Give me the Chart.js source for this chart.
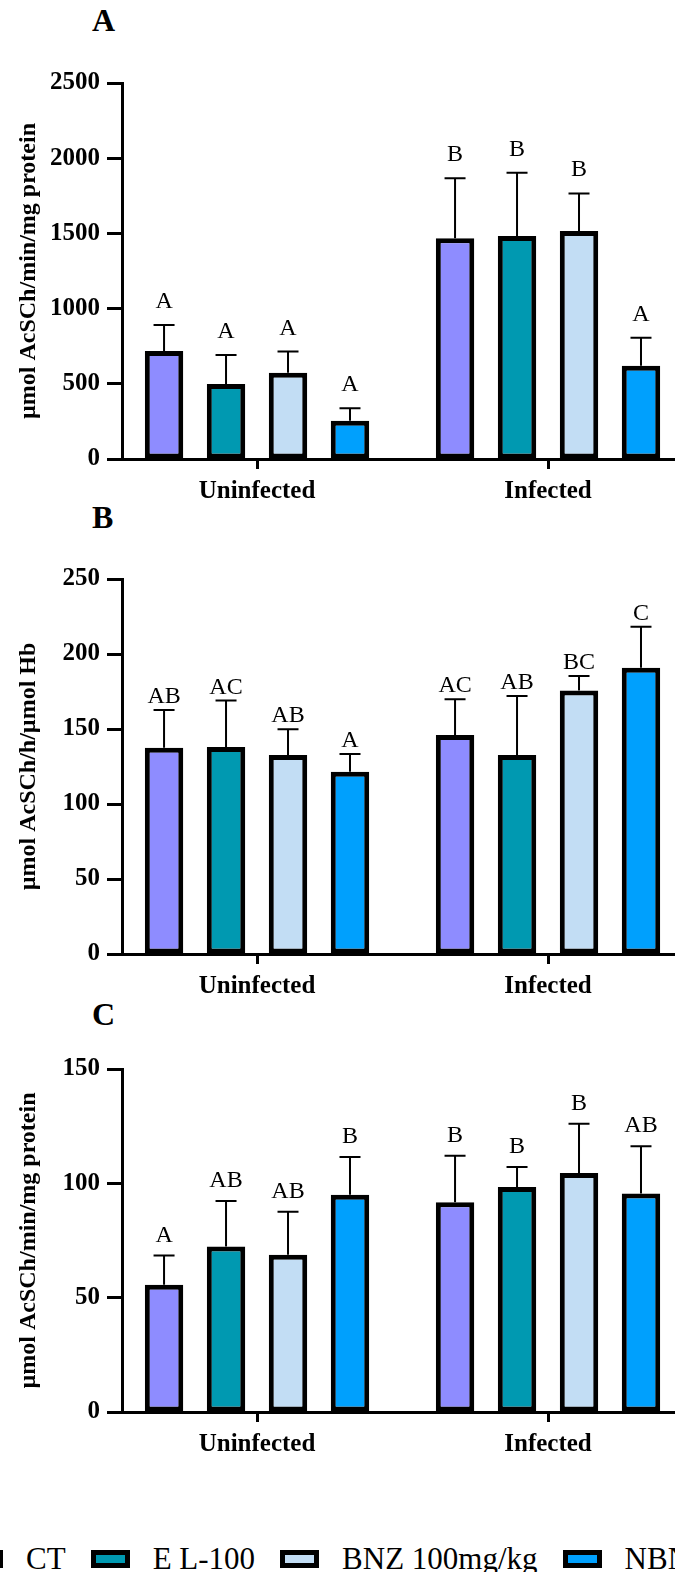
<!DOCTYPE html>
<html>
<head>
<meta charset="utf-8">
<script src="https://cdn.jsdelivr.net/npm/chart.js@4.4.1/dist/chart.umd.min.js"></script>
<style>
  html, body { margin: 0; padding: 0; background: #fff; }
  #page { position: relative; width: 675px; height: 1572px; overflow: hidden; font-family: "Liberation Serif", "Times New Roman", serif; }
  canvas { position: absolute; left: 0; }
  .panel { position: absolute; left: 92px; font-weight: bold; font-size: 32px; line-height: 32px; }
  #legend { position: absolute; left: -36px; top: 1541px; display: flex; align-items: center; white-space: nowrap; font-size: 31px; line-height: 36px; }
  .item { display: flex; align-items: center; margin-right: 25px; }
  .box { width: 29px; height: 8px; border: 5px solid #000; margin-right: 23px; }
</style>
</head>
<body>
<div id="page">
  <div class="panel" style="top:4px">A</div>
  <div class="panel" style="top:501px">B</div>
  <div class="panel" style="top:998px">C</div>
  <canvas id="chartA" width="720" height="504" style="top:0px"></canvas>
  <canvas id="chartB" width="720" height="499" style="top:500px"></canvas>
  <canvas id="chartC" width="720" height="457" style="top:1000px"></canvas>
  <div id="legend"></div>
</div>
<script>
// groups and treatments
const categories = ['Uninfected', 'Infected'];
const treatments = ['CT', 'E L-100', 'BNZ 100mg/kg', 'NBN'];
const colors = ['#8e8cff', '#0099b1', '#c2ddf4', '#00a0fd'];

// A - umol AcSCh/min/mg protein, one row per treatment [Uninfected, Infected]
const meansA = [[718, 1467], [499, 1483], [574, 1516], [255, 620]];
const sdA = [[173, 399], [192, 421], [140, 250], [82, 187]];
const lettersA = [['A', 'B'], ['A', 'B'], ['A', 'B'], ['A', 'A']];

// B - umol AcSCh/h/umol Hb
const meansB = [[137.5, 146], [138, 132.7], [132.7, 175.6], [121.5, 190.9]];
const sdB = [[25.2, 23.8], [31, 39.3], [17.1, 9.7], [11.8, 27.3]];
const lettersB = [['AB', 'AC'], ['AC', 'AB'], ['AB', 'BC'], ['A', 'C']];

// C - umol AcSCh/min/mg protein
const meansC = [[55.7, 91.7], [72.4, 98.4], [68.8, 104.5], [95.0, 95.5]];
const sdC = [[12.7, 20.4], [19.9, 8.7], [18.8, 21.6], [16.5, 20.7]];
const lettersC = [['A', 'B'], ['AB', 'B'], ['AB', 'B'], ['B', 'AB']];

const FONT = '"Liberation Serif", "Times New Roman", serif';

// error bars (upper only) + significance letters
const errorBars = {
  id: 'errorBars',
  afterDatasetsDraw(chart, args, opts) {
    const ctx = chart.ctx;
    const yScale = chart.scales.y;
    ctx.save();
    chart.data.datasets.forEach((ds, d) => {
      chart.getDatasetMeta(d).data.forEach((bar, i) => {
        const v = ds.data[i].y;
        const top = yScale.getPixelForValue(v);
        const err = yScale.getPixelForValue(v + opts.sd[d][i]);
        ctx.strokeStyle = '#000';
        ctx.lineWidth = 2;
        ctx.beginPath();
        ctx.moveTo(bar.x, top);
        ctx.lineTo(bar.x, err);
        ctx.moveTo(bar.x - 10.5, err);
        ctx.lineTo(bar.x + 10.5, err);
        ctx.stroke();
        ctx.fillStyle = '#000';
        ctx.font = '24px ' + FONT;
        ctx.textAlign = 'center';
        ctx.textBaseline = 'alphabetic';
        ctx.fillText(opts.letters[d][i], bar.x, err - opts.gap);
      });
    });
    ctx.restore();
  }
};

function makeChart(id, means, sd, letters, yMax, yStep, yTitle, topPad, gap) {
  return new Chart(id, {
    type: 'bar',
    data: {
      datasets: treatments.map((t, d) => ({
        label: t,
        data: means[d].map((v, i) => ({x: i, y: v})),
        backgroundColor: colors[d],
        borderColor: '#000',
        borderWidth: 5,
        borderSkipped: false,
        barPercentage: 0.62,
        categoryPercentage: 0.852
      }))
    },
    options: {
      responsive: false,
      animation: false,
      layout: {padding: {top: topPad, left: 0, right: 0, bottom: 0}},
      plugins: {
        legend: {display: false},
        tooltip: {enabled: false},
        errorBars: {sd: sd, letters: letters, gap: gap}
      },
      scales: {
        x: {
          type: 'linear',
          offset: false,
          min: -0.464,
          max: 1.591,
          bounds: 'data',
          afterBuildTicks: s => { s.ticks = categories.map((c, i) => ({value: i})); },
          afterFit: s => { s.height = 45; },
          ticks: {
            callback: v => categories[v],
            color: '#000',
            padding: 8,
            font: {family: FONT, size: 25, weight: 'bold'}
          },
          grid: {offset: false, drawOnChartArea: false, drawTicks: true, tickLength: 10, tickWidth: 3, tickColor: '#000'},
          border: {display: true, color: '#000', width: 3}
        },
        y: {
          min: 0,
          max: yMax,
          afterFit: s => { s.width = 122; },
          ticks: {
            stepSize: yStep,
            format: {useGrouping: false},
            color: '#000',
            padding: 7,
            font: {family: FONT, size: 25, weight: 'bold'}
          },
          grid: {drawOnChartArea: false, drawTicks: true, tickLength: 15, tickWidth: 3, tickColor: '#000'},
          border: {display: true, color: '#000', width: 3},
          title: {
            display: true,
            text: yTitle,
            color: '#000',
            padding: {top: 14, bottom: 0},
            font: {family: FONT, size: 24, weight: 'bold'}
          }
        }
      }
    },
    plugins: [errorBars]
  });
}

makeChart('chartA', meansA, sdA, lettersA, 2500, 500, 'µmol AcSCh/min/mg protein', 83, 17);
makeChart('chartB', meansB, sdB, lettersB, 250, 50, 'µmol AcSCh/h/µmol Hb', 79, 7);
makeChart('chartC', meansC, sdC, lettersC, 150, 50, 'µmol AcSCh/min/mg protein', 69, 14);

// legend
const legend = document.getElementById('legend');
treatments.forEach((t, d) => {
  const item = document.createElement('div');
  item.className = 'item';
  const box = document.createElement('div');
  box.className = 'box';
  box.style.background = colors[d];
  const label = document.createElement('span');
  label.textContent = t;
  item.appendChild(box);
  item.appendChild(label);
  legend.appendChild(item);
});
</script>
</body>
</html>
